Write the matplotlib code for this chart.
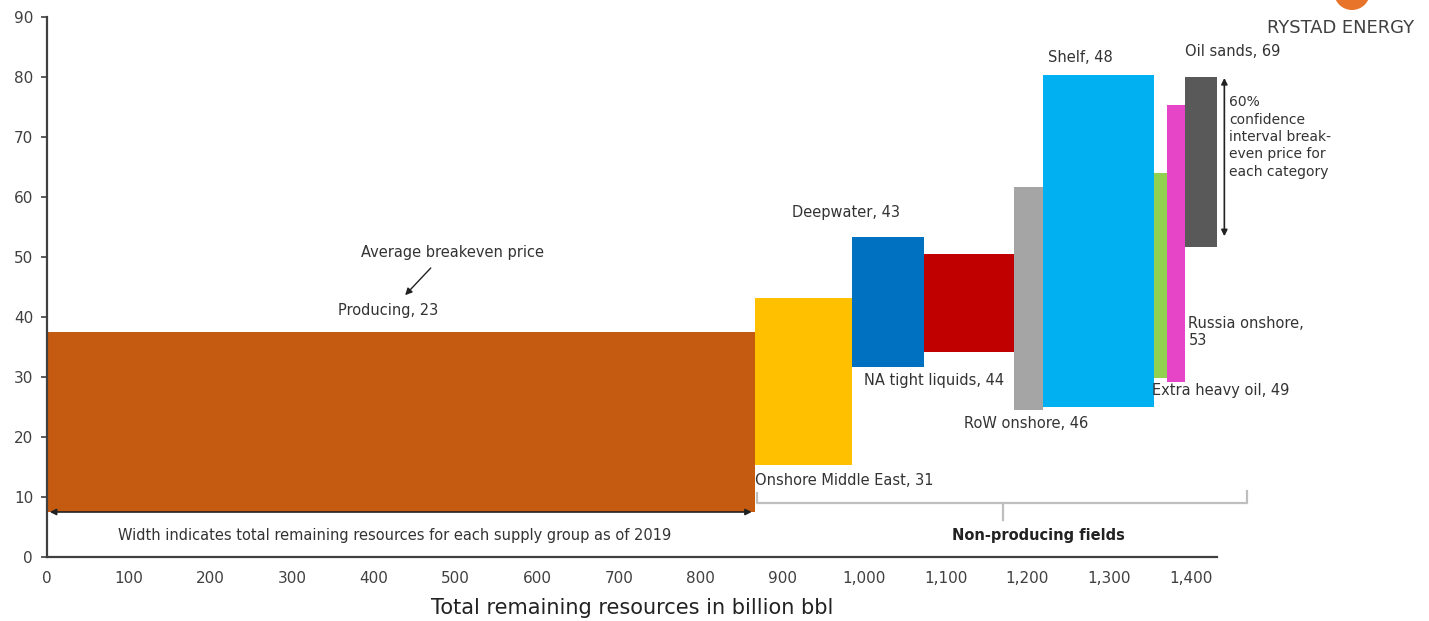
import matplotlib
matplotlib.use("Agg")
import matplotlib.pyplot as plt
from matplotlib.patches import Ellipse

# ---- data ----
categories = ["Producing", "Onshore Middle East", "Deepwater", "NA tight liquids",
              "RoW onshore", "Shelf", "Extra heavy oil", "Russia onshore", "Oil sands"]
avg_breakeven = [23, 31, 43, 44, 46, 48, 49, 53, 69]
widths = [866, 119, 88, 110, 36, 136, 16, 22, 39]          # billion bbl
low = [7.5, 15.3, 31.7, 34.2, 24.5, 25.0, 29.8, 29.2, 51.7]  # USD/bbl
high = [37.5, 43.2, 53.3, 50.5, 61.7, 80.3, 64.0, 75.3, 80.0]
colors = ["#C55A11", "#FFC000", "#0070C0", "#C00000", "#A5A5A5",
          "#00B0F0", "#92D050", "#E645C8", "#595959"]
xticks = [0, 100, 200, 300, 400, 500, 600, 700, 800, 900, 1000, 1100, 1200, 1300, 1400]
xticklabels = ["0", "100", "200", "300", "400", "500", "600", "700", "800", "900",
               "1,000", "1,100", "1,200", "1,300", "1,400"]
yticks = [0, 10, 20, 30, 40, 50, 60, 70, 80, 90]

plt.rcParams['font.family'] = ['DejaVu Sans']

fig = plt.figure(figsize=(14.29, 6.21), dpi=100)
ax = fig.add_axes([47/1429, 64/621, (1217-47)/1429, (557-17)/621])

lefts = []
x = 0
for w in widths:
    lefts.append(x)
    x += w
total = x

ax.bar(lefts, [h - l for h, l in zip(high, low)], width=widths, bottom=low,
       align='edge', color=colors, linewidth=0)

ax.set_xlim(0, total)
ax.set_ylim(0, 90)
ax.set_xticks(xticks)
ax.set_xticklabels(xticklabels, fontsize=11, color="#404040")
ax.set_yticks(yticks)
ax.set_yticklabels([str(v) for v in yticks], fontsize=11, color="#404040")
ax.tick_params(axis='x', length=0, pad=10)
ax.tick_params(axis='y', length=4, width=1.2, color="#404040", direction='out', pad=6)
for s in ["top", "right"]:
    ax.spines[s].set_visible(False)
for s in ["left", "bottom"]:
    ax.spines[s].set_color("#404040")
    ax.spines[s].set_linewidth(1.6)
ax.set_xlabel("Total remaining resources in billion bbl", fontsize=15, color="#222222", labelpad=9)

tc = "#333333"
fs = 10.5
def lab(name, val):
    return f"{name}, {val}"

ax.text(417, 41, lab(categories[0], avg_breakeven[0]), ha='center', va='center', fontsize=fs, color=tc)
ax.text(496, 50.8, "Average breakeven price", ha='center', va='center', fontsize=fs, color=tc)
ax.annotate("", xy=(436, 43.3), xytext=(472, 48.5),
            arrowprops=dict(arrowstyle='-|>', color="#222222", lw=1, mutation_scale=10))
ax.text(866, 12.7, lab(categories[1], avg_breakeven[1]), ha='left', va='center', fontsize=fs, color=tc)
ax.text(978, 57.5, lab(categories[2], avg_breakeven[2]), ha='center', va='center', fontsize=fs, color=tc)
ax.text(1000, 29.5, lab(categories[3], avg_breakeven[3]), ha='left', va='center', fontsize=fs, color=tc)
ax.text(1198, 22.2, lab(categories[4], avg_breakeven[4]), ha='center', va='center', fontsize=fs, color=tc)
ax.text(1265, 83.3, lab(categories[5], avg_breakeven[5]), ha='center', va='center', fontsize=fs, color=tc)
ax.text(1353, 27.8, lab(categories[6], avg_breakeven[6]), ha='left', va='center', fontsize=fs, color=tc,
        clip_on=False)
ax.text(1397, 37.5, f"{categories[7]},\n{avg_breakeven[7]}", ha='left', va='center', fontsize=fs,
        color=tc, linespacing=1.15, clip_on=False)
ax.text(1393, 84.3, lab(categories[8], avg_breakeven[8]), ha='left', va='center', fontsize=fs, color=tc,
        clip_on=False)

# confidence interval explanation
ax.annotate("", xy=(1441, 80.3), xytext=(1441, 53.0),
            arrowprops=dict(arrowstyle='<|-|>', color="#222222", lw=1.2, mutation_scale=9),
            annotation_clip=False)
ax.text(1447, 70.0, "60%\nconfidence\ninterval break-\neven price for\neach category",
        ha='left', va='center', fontsize=10, color=tc, linespacing=1.3, clip_on=False)

# width arrow
ax.annotate("", xy=(0, 7.5), xytext=(widths[0], 7.5),
            arrowprops=dict(arrowstyle='<|-|>', color="#222222", lw=1.2, mutation_scale=9),
            annotation_clip=False)
ax.text(425, 3.6, "Width indicates total remaining resources for each supply group as of 2019",
        ha='center', va='center', fontsize=10.5, color=tc)

# non-producing bracket
bc = "#BFBFBF"
ax.plot([869, 869, 1469, 1469], [10.6, 9.0, 9.0, 11.0], color=bc, lw=1.6, clip_on=False)
ax.plot([1170, 1170], [9.0, 6.2], color=bc, lw=1.6, clip_on=False)
ax.text(1213, 3.6, "Non-producing fields", ha='center', va='center', fontsize=10.5,
        fontweight='bold', color="#222222")

# branding
fig.text(1341/1429, 1 - 28/621, "RYSTAD ENERGY", ha='center', va='center', fontsize=12.9,
         color="#404040")
fig.patches.append(Ellipse((1352/1429, 1 + 8/621), 36/1429, 36/621, transform=fig.transFigure,
                           facecolor="#E8742A", edgecolor='none'))

fig.savefig("out.png", dpi=100, facecolor='white')
